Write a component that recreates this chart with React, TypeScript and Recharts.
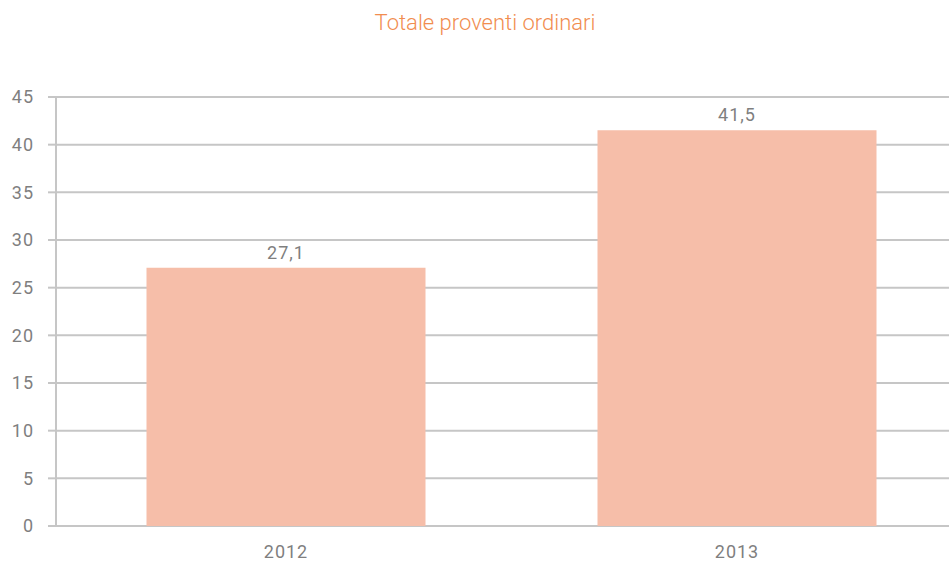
import { BarChart, Bar, XAxis, YAxis, CartesianGrid, LabelList } from "recharts"

const years = ["2012", "2013"]
const proventi = [27.1, 41.5]
const yTicks = [0, 5, 10, 15, 20, 25, 30, 35, 40, 45]
const edgeTicks = [0, 1, 2]

const data = years.map((y, i) => ({ year: y, value: proventi[i] }))

const gray = "#c6c6c6"
const textGray = "#7f7f7f"
const font = "Roboto, sans-serif"

export default function App() {
  return (
    <div
      style={{
        position: "absolute",
        left: 0,
        top: 0,
        width: 949,
        height: 563,
        overflow: "hidden",
        background: "#fff",
        fontFamily: font,
      }}
    >
      <div
        style={{
          position: "absolute",
          left: 0,
          top: 10,
          width: 970,
          textAlign: "center",
          color: "#f18d4f",
          fontSize: 22,
          fontWeight: 300,
        }}
      >
        Totale proventi ordinari
      </div>
      <BarChart
        width={965}
        height={563}
        data={data}
        margin={{ top: 97, right: 2.5, left: 0, bottom: 0 }}
        barSize={279}
      >
        <CartesianGrid vertical={false} stroke={gray} strokeWidth={2} />
        {/* boundary ticks between the categories */}
        <XAxis
          xAxisId="edge"
          type="number"
          domain={[0, 2]}
          ticks={edgeTicks}
          allowDataOverflow
          height={0}
          padding={{ left: 0, right: 4.5 }}
          axisLine={{ stroke: gray, strokeWidth: 2 }}
          tickLine={{ stroke: gray, strokeWidth: 2 }}
          tickSize={6}
          tickFormatter={() => ""}
        />
        <XAxis
          xAxisId="cat"
          dataKey="year"
          height={37}
          padding={{ left: 4.5, right: 0 }}
          axisLine={false}
          tickLine={false}
          tickSize={0}
          tickMargin={19}
          tick={{ fill: textGray, fontSize: 18, fontFamily: font, letterSpacing: 1 }}
        />
        <YAxis
          domain={[0, 45]}
          ticks={yTicks}
          width={56}
          axisLine={{ stroke: gray, strokeWidth: 2 }}
          tickLine={{ stroke: gray, strokeWidth: 2 }}
          tickSize={8}
          tickMargin={14}
          tick={{ fill: textGray, fontSize: 18, fontFamily: font, letterSpacing: 1 }}
        />
        <Bar dataKey="value" xAxisId="cat" fill="#f6bea9" isAnimationActive={false}>
          <LabelList
            dataKey="value"
            position="top"
            offset={9}
            formatter={(v: any) => String(v).replace(".", ",")}
            style={{ fill: textGray, fontSize: 18, fontFamily: font, letterSpacing: 1 }}
          />
        </Bar>
      </BarChart>
    </div>
  )
}
